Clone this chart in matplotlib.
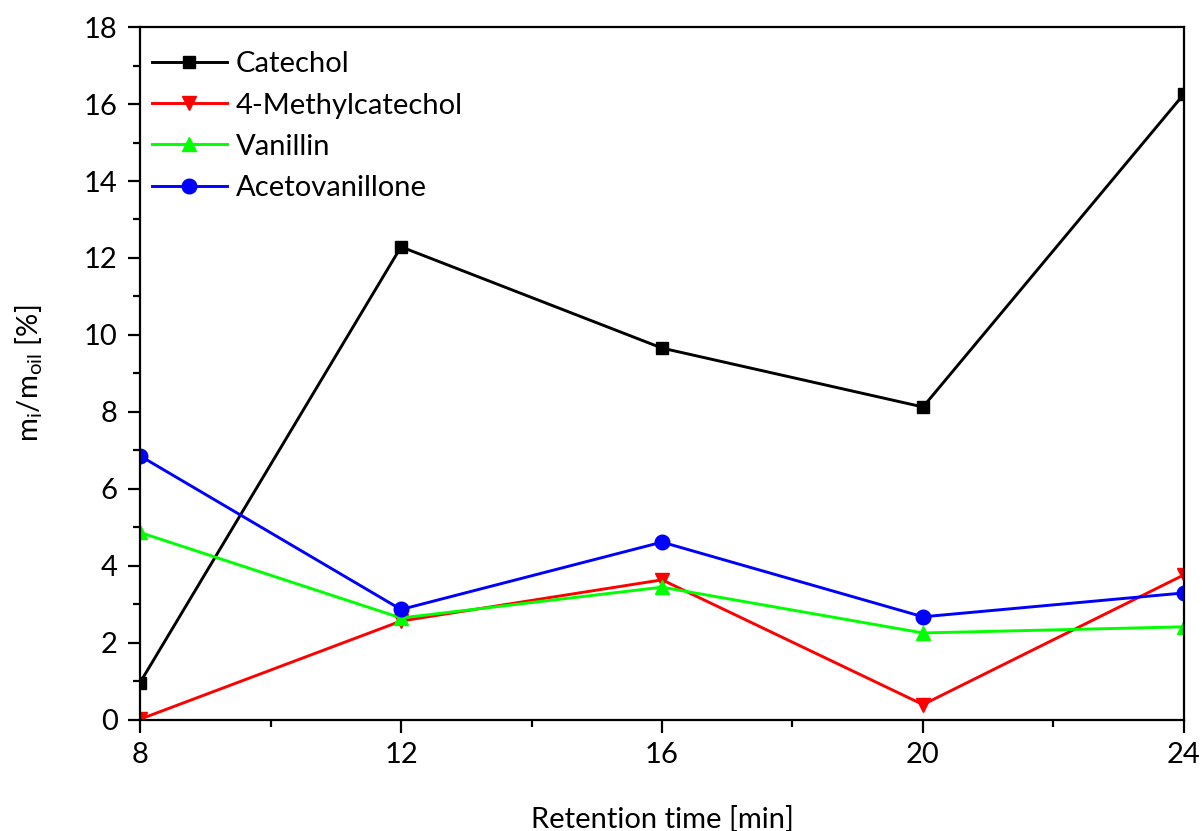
import matplotlib
matplotlib.use("Agg")
import matplotlib.pyplot as plt
from matplotlib.ticker import MultipleLocator

plt.rcParams['font.family'] = ['Lato', 'DejaVu Sans']
plt.rcParams['mathtext.fontset'] = 'custom'
plt.rcParams['mathtext.rm'] = 'Lato'

retention_time = [8, 12, 16, 20, 24]
catechol = [0.97, 12.29, 9.66, 8.13, 16.26]
methylcatechol = [0.02, 2.57, 3.64, 0.40, 3.77]
vanillin = [4.87, 2.65, 3.45, 2.26, 2.42]
acetovanillone = [6.86, 2.87, 4.62, 2.68, 3.30]

series = [
    ("Catechol", catechol, "black", "s", 9),
    ("4-Methylcatechol", methylcatechol, "#ff0000", "v", 10.5),
    ("Vanillin", vanillin, "#00ff00", "^", 10.5),
    ("Acetovanillone", acetovanillone, "#0000ff", "o", 10.5),
]

FS = 21

fig = plt.figure(figsize=(12.02, 8.31), dpi=100)
ax = fig.add_axes([0.1165, 0.1336, 0.985 - 0.1165, 0.9675 - 0.1336])

for name, vals, color, marker, ms in series:
    ax.plot(retention_time, vals, color=color, marker=marker, ms=ms,
            lw=2.1, label=name)

ax.set_xlim(8, 24)
ax.set_ylim(0, 18)
ax.xaxis.set_major_locator(MultipleLocator(4))
ax.xaxis.set_minor_locator(MultipleLocator(2))
ax.yaxis.set_major_locator(MultipleLocator(2))
ax.yaxis.set_minor_locator(MultipleLocator(1))

for s in ax.spines.values():
    s.set_linewidth(1.6)
ax.tick_params(which='major', direction='out', length=9, width=1.6,
               labelsize=FS, pad=7)
ax.tick_params(which='minor', direction='out', length=5, width=1.6)

ax.set_xlabel("Retention time [min]", fontsize=FS, labelpad=27)
ax.set_ylabel(r"m$_\mathregular{i}$/m$_\mathregular{oil}$ [%]", fontsize=FS,
              labelpad=28)

ax.legend(loc='upper left', frameon=False, fontsize=FS, handlelength=2.57,
          handletextpad=0.3, labelspacing=0.52, borderaxespad=0.15,
          bbox_to_anchor=(-0.004, 0.988))

fig.savefig("out.png", dpi=100)
